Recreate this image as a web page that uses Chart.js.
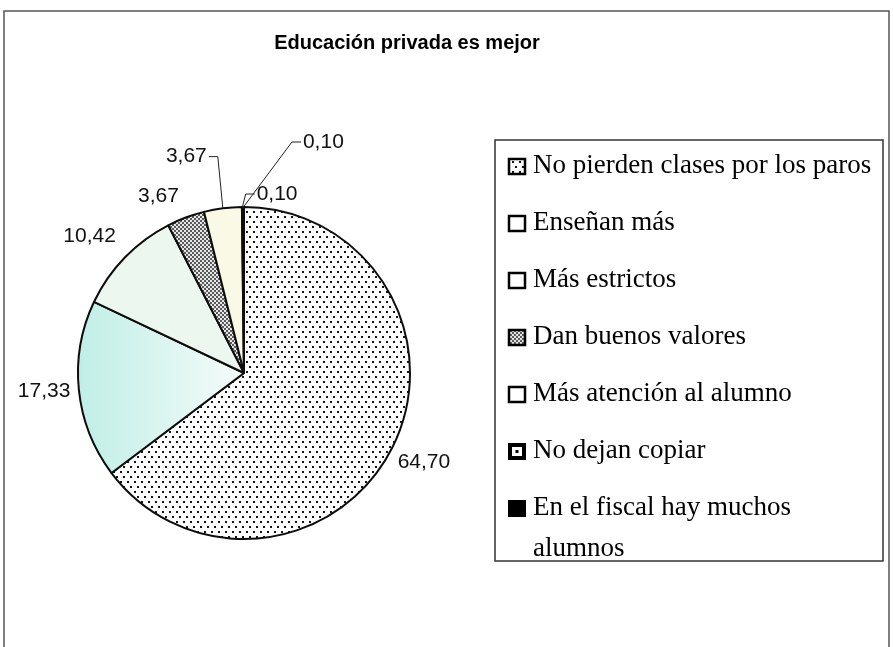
<!DOCTYPE html>
<html>
<head>
<meta charset="utf-8">
<title>Educación privada es mejor</title>
<script src="https://cdn.jsdelivr.net/npm/chart.js@4.4.0/dist/chart.umd.min.js"></script>
<style>
  html, body { margin: 0; padding: 0; background: #fff; }
  #wrap { width: 893px; height: 647px; }
  canvas { display: block; }
</style>
</head>
<body>
<div id="wrap"><canvas id="pieChartCanvas" width="893" height="647"></canvas></div>
<script>
const chartTitle = 'Educación privada es mejor';
const categories = [
  'No pierden clases por los paros',
  'Enseñan más',
  'Más estrictos',
  'Dan buenos valores',
  'Más atención al alumno',
  'No dejan copiar',
  'En el fiscal hay muchos alumnos'
];
const values = [64.70, 17.33, 10.42, 3.67, 3.67, 0.10, 0.10];
const valueLabels = values.map(v => v.toFixed(2).replace('.', ','));

// label nudges (px) from the default spot on each slice's mid angle
const labelNudge = [[0, 0], [0, -2], [-10, 3], [-15, 11], [-32, -17], [35, 22], [80, -30]];
// slices whose label is pulled away and joined with a leader line
const withLeader = [false, false, false, false, true, true, true];

// white with black dots
function dotPattern(ctx) {
  const c = document.createElement('canvas');
  c.width = 7; c.height = 10;
  const g = c.getContext('2d');
  g.fillStyle = '#fff';
  g.fillRect(0, 0, 7, 10);
  g.fillStyle = '#141414';
  g.fillRect(1, 1, 2, 2);
  g.fillRect(4, 6, 2, 2);
  return ctx.createPattern(c, 'repeat');
}

// fine grey checker
function greyPattern(ctx) {
  const c = document.createElement('canvas');
  c.width = 4; c.height = 4;
  const g = c.getContext('2d');
  g.fillStyle = '#e6e6e6';
  g.fillRect(0, 0, 4, 4);
  g.fillStyle = '#5a5a5a';
  g.fillRect(0, 0, 2, 2);
  g.fillRect(2, 2, 2, 2);
  return ctx.createPattern(c, 'repeat');
}

const ctx = document.getElementById('pieChartCanvas').getContext('2d');
const dots = dotPattern(ctx);
const grey = greyPattern(ctx);

function sliceFill(context) {
  const i = context.dataIndex;
  const area = context.chart.chartArea;
  if (i === 0) return dots;
  if (i === 1) {
    if (!area) return '#d8f4ee';
    const grd = context.chart.ctx.createLinearGradient(area.left, 0, area.left + area.width / 2, 0);
    grd.addColorStop(0, '#bfeee6');
    grd.addColorStop(1, '#f6fcfa');
    return grd;
  }
  if (i === 2) return '#ecf7f0';
  if (i === 3) return grey;
  if (i === 4) return '#f9f9e6';
  if (i === 5) return '#ffffff';
  return '#000000';
}

// frame, title and the boxed legend
const decorPlugin = {
  id: 'decor',
  beforeDraw(chart) {
    const c = chart.ctx;
    c.save();
    c.fillStyle = '#fff';
    c.fillRect(0, 0, chart.width, chart.height);
    c.strokeStyle = '#555';
    c.lineWidth = 1.5;
    c.beginPath();
    c.moveTo(4, chart.height);
    c.lineTo(4, 11);
    c.lineTo(889, 11);
    c.lineTo(889, chart.height);
    c.stroke();
    c.restore();
  },
  afterDraw(chart) {
    const c = chart.ctx;
    c.save();
    c.fillStyle = '#000';
    c.font = 'bold 20px "Liberation Sans", Arial, sans-serif';
    c.textAlign = 'center';
    c.textBaseline = 'middle';
    c.fillText(chartTitle, 407, 43);

    // legend box
    const box = { left: 495, top: 140, right: 883, bottom: 561 };
    c.strokeStyle = '#333';
    c.lineWidth = 1.5;
    c.strokeRect(box.left, box.top, box.right - box.left, box.bottom - box.top);

    c.font = '27px "Liberation Serif", "Times New Roman", serif';
    c.textAlign = 'left';
    c.textBaseline = 'middle';
    const textX = 533;
    const maxW = box.right - textX - 8;
    let y = 166;
    categories.forEach((label, i) => {
      drawSwatch(c, i, 508, y - 8, 18, 17);
      c.fillStyle = '#000';
      const lines = wrapText(c, label, maxW);
      lines.forEach((ln, k) => c.fillText(ln, textX, y + k * 41));
      y += 57;
    });
    c.restore();
  }
};

function wrapText(c, text, maxW) {
  const words = text.split(' ');
  const lines = [];
  let cur = '';
  words.forEach(w => {
    const test = cur ? cur + ' ' + w : w;
    if (c.measureText(test).width > maxW && cur) {
      lines.push(cur);
      cur = w;
    } else {
      cur = test;
    }
  });
  lines.push(cur);
  return lines;
}

function drawSwatch(c, i, x, y, w, h) {
  c.save();
  if (i === 6) {
    c.fillStyle = '#000';
    c.fillRect(x, y, w, h);
  } else if (i === 5) {
    c.fillStyle = '#000';
    c.fillRect(x, y, w, h);
    c.fillStyle = '#fff';
    c.fillRect(x + 4, y + 4, w - 8, h - 8);
    c.fillStyle = '#000';
    c.fillRect(x + w / 2 - 1.5, y + h / 2 - 1.5, 3, 3);
  } else {
    c.fillStyle = i === 0 ? dots : (i === 3 ? grey : '#fff');
    c.fillRect(x, y, w, h);
    c.strokeStyle = '#000';
    c.lineWidth = 2.5;
    c.strokeRect(x + 1, y + 1, w - 2, h - 2);
  }
  c.restore();
}

// value labels around the pie, some with leader lines
const valueLabelPlugin = {
  id: 'valueLabels',
  afterDatasetsDraw(chart) {
    const c = chart.ctx;
    const meta = chart.getDatasetMeta(0);
    c.save();
    c.font = '21px "Liberation Sans", Arial, sans-serif';
    c.textAlign = 'center';
    c.textBaseline = 'middle';
    c.fillStyle = '#111';
    c.strokeStyle = '#222';
    c.lineWidth = 1;
    meta.data.forEach((arc, i) => {
      const p = arc.getProps(['x', 'y', 'startAngle', 'endAngle', 'outerRadius'], true);
      const mid = (p.startAngle + p.endAngle) / 2;
      const r = p.outerRadius + 35;
      const lx = p.x + Math.cos(mid) * r + labelNudge[i][0];
      const ly = p.y + Math.sin(mid) * r + labelNudge[i][1];
      const text = valueLabels[i];
      c.fillText(text, lx, ly);
      if (withLeader[i]) {
        const ex = p.x + Math.cos(mid) * p.outerRadius;
        const ey = p.y + Math.sin(mid) * p.outerRadius;
        const half = c.measureText(text).width / 2;
        const dir = lx < ex ? 1 : -1;
        const sx = lx + dir * (half + 2);
        c.beginPath();
        c.moveTo(sx, ly);
        c.lineTo(sx + dir * 9, ly);
        c.lineTo(ex, ey);
        c.stroke();
      }
    });
    c.restore();
  }
};

new Chart(ctx, {
  type: 'pie',
  data: {
    labels: categories,
    datasets: [{
      data: values,
      backgroundColor: sliceFill,
      borderColor: '#0d0d0d',
      borderWidth: 2
    }]
  },
  options: {
    responsive: false,
    animation: false,
    layout: { padding: { left: 77, right: 482, top: 206, bottom: 107 } },
    plugins: {
      legend: { display: false },
      title: { display: false },
      tooltip: { enabled: false }
    }
  },
  plugins: [decorPlugin, valueLabelPlugin]
});
</script>
</body>
</html>
